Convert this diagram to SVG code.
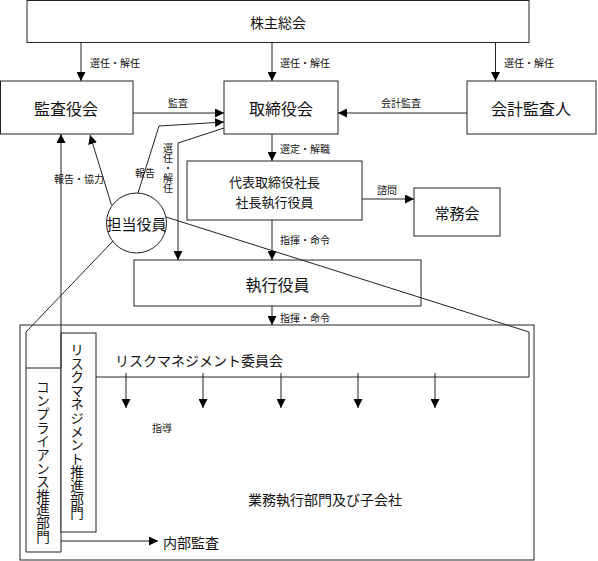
<svg xmlns="http://www.w3.org/2000/svg" width="598" height="561" viewBox="0 0 598 561">
<defs>
<marker id="ah" viewBox="0 0 10 10" refX="10" refY="5" markerWidth="9" markerHeight="9" markerUnits="userSpaceOnUse" orient="auto">
<path d="M0,0 L10,5 L0,10 z" fill="#000"/>
</marker>
<style>
.box{fill:#fff;stroke:#222;stroke-width:1}
.ln{fill:none;stroke:#222;stroke-width:1}
.ar{fill:none;stroke:#222;stroke-width:1;marker-end:url(#ah)}
text{font-family:"Noto Sans CJK JP","Noto Sans",sans-serif;fill:#111;dominant-baseline:central}
.big{font-size:15px;text-anchor:middle}
.mid{font-size:14px}
.sm{font-size:10px}
.vt{writing-mode:vertical-rl;font-size:13.6px}
.vsm{writing-mode:vertical-rl;font-size:10px}
</style>
</defs>
<rect width="598" height="561" fill="#fff"/>

<g id="outer">
<rect class="box" x="20" y="325" width="514" height="235"/>
<text class="mid" x="248" y="499">業務執行部門及び子会社</text>
</g>

<g id="shareholders">
<rect class="box" x="27" y="0.5" width="502" height="42"/>
<text class="big" x="278" y="22" style="font-size:14px">株主総会</text>
</g>
<g id="auditors">
<rect class="box" x="0.5" y="81" width="132.5" height="53"/>
<text class="big" x="66" y="108" style="font-size:16px">監査役会</text>
</g>
<g id="board">
<rect class="box" x="224" y="81" width="114" height="53"/>
<text class="big" x="281" y="108" style="font-size:16px">取締役会</text>
</g>
<g id="accounting">
<rect class="box" x="467" y="81" width="129" height="53"/>
<text class="big" x="531" y="108" style="font-size:16px">会計監査人</text>
</g>
<g id="president">
<rect class="box" x="187" y="161" width="175" height="59"/>
<text class="big" x="274.5" y="181" style="font-size:13px">代表取締役社長</text>
<text class="big" x="274.5" y="201" style="font-size:13px">社長執行役員</text>
</g>
<g id="jomukai">
<rect class="box" x="414" y="188" width="86" height="48"/>
<text class="big" x="457" y="212.5">常務会</text>
</g>
<g id="officers">
<rect class="box" x="134" y="260" width="287" height="46"/>
<text class="big" x="277.5" y="284" style="font-size:16px">執行役員</text>
</g>
<g id="tanto">
<circle class="box" cx="136.5" cy="223" r="30"/>
<text class="big" x="136.5" y="223">担当役員</text>
</g>
<g id="compliance">
<path class="ln" d="M26,332 L26,552 L61,552 L61,368 L26,368"/>
<text class="vt" x="43" y="380">コンプライアンス推進部門</text>
</g>
<g id="riskdept">
<rect class="box" x="61" y="333" width="35" height="199"/>
<text class="vt" x="77" y="343">リスクマネジメント推進部門</text>
</g>
<g id="riskcommittee">
<text class="mid" x="115" y="360">リスクマネジメント委員会</text>
</g>
<g id="audit">
<text class="mid" x="163" y="542">内部監査</text>
</g>

<g id="connectors">
<path class="ar" d="M81,42.5 L81,81"/>
<path class="ar" d="M272,42.5 L272,81"/>
<path class="ar" d="M495.5,42.5 L495.5,81"/>
<path class="ar" d="M133,113 L224,113"/>
<path class="ar" d="M467,113 L338,113"/>
<path class="ar" d="M272,134 L272,161"/>
<path class="ar" d="M272,220 L272,260"/>
<path class="ar" d="M362,199 L414,199"/>
<path class="ar" d="M272,306 L272,325"/>
<path class="ar" d="M138,193 L159,126 L224,122"/>
<path class="ar" d="M224,128 L178,143 L178,260"/>
<path class="ar" d="M111.5,205 L90,135"/>
<path class="ar" d="M61,368 L61,134"/>
<path class="ln" d="M113,241 L26,332"/>
<path class="ln" d="M166,217 L529,332 L529,377 L96,377"/>
<path class="ar" d="M126,373 L126,408"/>
<path class="ar" d="M203,373 L203,408"/>
<path class="ar" d="M281,373 L281,408"/>
<path class="ar" d="M358,373 L358,408"/>
<path class="ar" d="M435,373 L435,408"/>
<path class="ar" d="M61,541 L158,541"/>
<text class="sm" x="90" y="62.5">選任・解任</text>
<text class="sm" x="280" y="62.5">選任・解任</text>
<text class="sm" x="504" y="62.5">選任・解任</text>
<text class="sm" x="168" y="102">監査</text>
<text class="sm" x="381" y="102">会計監査</text>
<text class="sm" x="280" y="148">選定・解職</text>
<text class="sm" x="377" y="189">諮問</text>
<text class="sm" x="280" y="239">指揮・命令</text>
<text class="sm" x="280" y="317">指揮・命令</text>
<text class="sm" x="54" y="178">報告・協力</text>
<text class="sm" x="135" y="172">報告</text>
<text class="vsm" x="168" y="143">選任・解任</text>
<text class="sm" x="152" y="427">指導</text>
</g>
</svg>
